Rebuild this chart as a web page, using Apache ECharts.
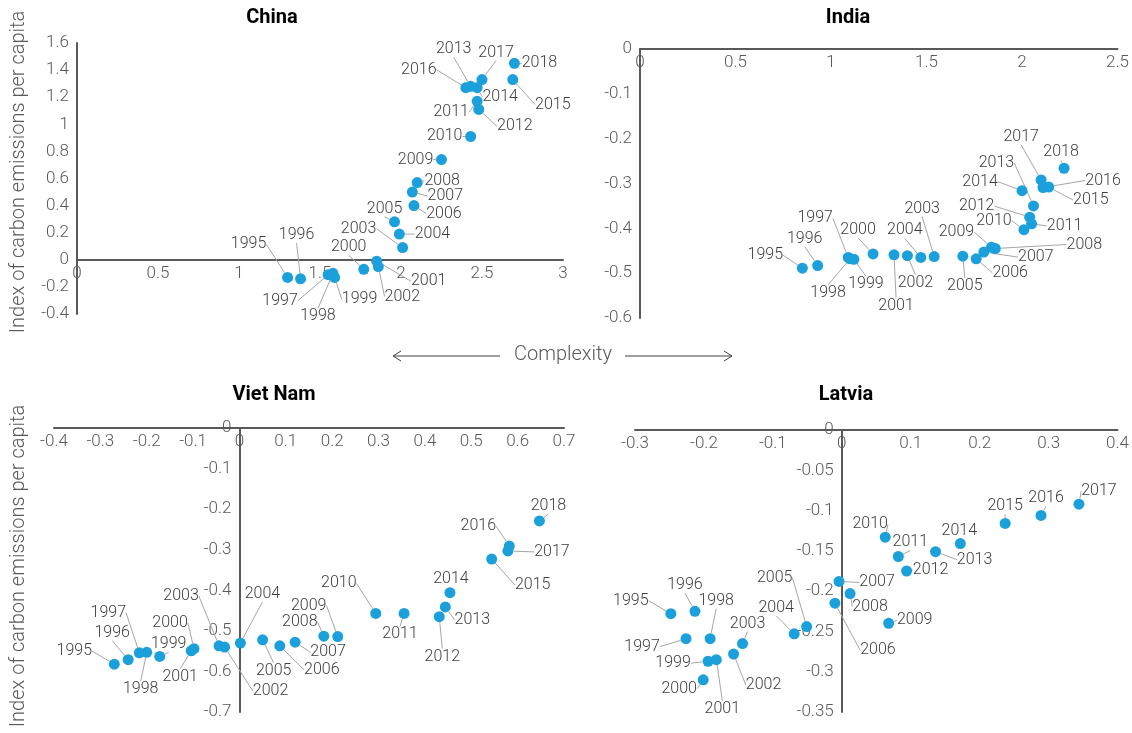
<!DOCTYPE html>
<html>
<head>
<meta charset="utf-8">
<script src="https://cdn.jsdelivr.net/npm/echarts@6/dist/echarts.min.js"></script>
<style>
html,body{margin:0;padding:0;background:#fff;}
#chart{width:1132px;height:733px;}
</style>
</head>
<body>
<div id="chart"></div>
<script>
// ---- data ----
const years = [1995,1996,1997,1998,1999,2000,2001,2002,2003,2004,2005,2006,2007,2008,2009,2010,2011,2012,2013,2014,2015,2016,2017,2018];

const chinaX = [1.30,1.38,1.55,1.58,1.59,1.77,1.85,1.86,2.01,1.99,1.96,2.08,2.07,2.10,2.25,2.43,2.47,2.48,2.43,2.47,2.69,2.40,2.50,2.70];
const chinaY = [-0.13,-0.14,-0.11,-0.10,-0.13,-0.07,-0.01,-0.05,0.09,0.19,0.28,0.40,0.50,0.57,0.74,0.91,1.17,1.11,1.28,1.27,1.33,1.27,1.33,1.45];

const indiaX = [0.85,0.93,1.09,1.10,1.12,1.22,1.33,1.40,1.54,1.47,1.69,1.76,1.80,1.86,1.84,2.01,2.05,2.04,2.06,2.00,2.14,2.11,2.10,2.22];
const indiaY = [-0.489,-0.483,-0.465,-0.468,-0.469,-0.457,-0.459,-0.461,-0.463,-0.465,-0.462,-0.468,-0.453,-0.445,-0.442,-0.403,-0.390,-0.375,-0.350,-0.316,-0.308,-0.309,-0.292,-0.266];

const vietX = [-0.270,-0.240,-0.216,-0.200,-0.172,-0.098,-0.104,-0.032,-0.044,0.002,0.050,0.087,0.120,0.182,0.212,0.294,0.355,0.431,0.444,0.454,0.544,0.582,0.579,0.647];
const vietY = [-0.582,-0.571,-0.554,-0.553,-0.563,-0.544,-0.549,-0.540,-0.537,-0.530,-0.522,-0.537,-0.528,-0.513,-0.514,-0.457,-0.457,-0.465,-0.441,-0.406,-0.323,-0.291,-0.303,-0.229];

const latviaX = [-0.248,-0.213,-0.226,-0.191,-0.194,-0.201,-0.182,-0.157,-0.144,-0.069,-0.051,-0.010,-0.004,0.012,0.068,0.063,0.082,0.094,0.136,0.172,0.237,0.289,0.344];
const latviaY = [-0.228,-0.225,-0.259,-0.259,-0.287,-0.310,-0.285,-0.278,-0.265,-0.253,-0.244,-0.215,-0.188,-0.203,-0.240,-0.133,-0.157,-0.175,-0.151,-0.141,-0.116,-0.106,-0.092];

const panelTitles = ['China','India','Viet Nam','Latvia'];
const yAxisTitle = 'Index of carbon emissions per capita';
const xAxisTitle = 'Complexity';

// ---- label offsets (pixels, label centre relative to dot) ----
const chinaLabelOff = [[-39,-33],[-4,-44],[-48,26],[-15,43],[25,22],[-15,-22],[52,20],[24,30],[-44,-19],[33,0],[-10,-13],[30,8],[33,4],[25,-2],[-26,0],[-26,0],[-26,11],[36,17],[-17,-37],[23,9],[40,25],[-47,-18],[14,-27],[25,0]];
const indiaLabelOff = [[-37,-13],[-13,-27],[-33,-39],[-22,34],[12,25],[-15,-24],[2,51],[8,27],[-12,-48],[-16,-27],[2,30],[34,14],[52,5],[89,-4],[-35,-15],[-30,-9],[33,2],[-53,-11],[-37,-43],[-42,-9],[42,13],[60,-7],[-20,-43],[-3,-16]];
const vietLabelOff = [[-40,-13],[-16,-27],[-31,-40],[-6,37],[9,-12],[-24,-26],[-11,26],[46,44],[-38,-50],[22,-49],[11,31],[42,24],[33,10],[-24,-14],[-29,-31],[-37,-30],[-4,21],[3,40],[27,13],[1,-14],[41,26],[-31,-20],[44,1],[9,-15]];
const latviaLabelOff = [[-40,-13],[-10,-26],[-44,8],[6,-38],[-35,2],[-24,9],[6,49],[30,31],[5,-20],[-18,-26],[-32,-49],[43,47],[38,1],[20,13],[26,-3],[-15,-13],[12,-14],[24,-1],[39,8],[-1,-13],[0,-17],[5,-17],[20,-13]];

// ---- styling ----
const FONT = 'Roboto, "Noto Sans", sans-serif';
const AXIS_COLOR = '#595959';
const DOT_COLOR = '#1ca0dc';
const CH = 733;
const grids = [
  {left:77, right:569, top:43, bottom:419},
  {left:640, right:12, top:49, bottom:415},
  {left:54, right:568, top:428, bottom:21},
  {left:635, right:10, top:430, bottom:21}
];

function pts(xs, ys){ return xs.map((x,i)=>[x, ys[i], years[i]]); }

function xAx(gi, min, max, interval, pos){
  return {
    type:'value', gridIndex:gi, min:min, max:max, interval:interval, position:pos,
    axisLine:{show:true, onZero:false, lineStyle:{color:AXIS_COLOR, width:2}},
    axisTick:{show:false}, splitLine:{show:false},
    axisLabel:{color:AXIS_COLOR, fontSize:17, fontWeight:300, fontFamily:FONT, margin:5, inside:pos==='top'}
  };
}
function yAx(gi, min, max, interval){
  return {
    type:'value', gridIndex:gi, min:min, max:max, interval:interval, position:'left',
    axisLine:{show:true, onZero:false, lineStyle:{color:AXIS_COLOR, width:2}},
    axisTick:{show:false}, splitLine:{show:false},
    axisLabel:{color:AXIS_COLOR, fontSize:17, fontWeight:300, fontFamily:FONT, margin:8}
  };
}
function ser(gi, data, offs){
  return {
    type:'scatter', xAxisIndex:gi, yAxisIndex:gi, data:data,
    symbol:'circle', symbolSize:11,
    itemStyle:{color:DOT_COLOR, opacity:1},
    label:{show:true, position:'inside', formatter:function(p){return p.value[2];},
           color:'#404040', fontSize:16, fontWeight:300, fontFamily:FONT},
    labelLine:{show:true, lineStyle:{color:'#a6a6a6', width:1}},
    labelLayout:function(p){
      const o = offs[p.dataIndex] || [0,0];
      return {x: p.rect.x + p.rect.width/2 + o[0], y: p.rect.y + p.rect.height/2 + o[1], align:'center', verticalAlign:'middle'};
    },
    emphasis:{disabled:true}, animation:false
  };
}

const chart = echarts.init(document.getElementById('chart'), null, {renderer:'canvas'});
const titleStyle = {fontSize:20, fontWeight:'bold', fontFamily:FONT, fill:'#000', textAlign:'center', textVerticalAlign:'middle'};
const grayText = {fontSize:20, fontWeight:300, fontFamily:FONT, fill:AXIS_COLOR, textAlign:'center', textVerticalAlign:'middle'};

chart.setOption({
  backgroundColor:'#fff',
  animation:false,
  grid:grids,
  xAxis:[ xAx(0,0,3,0.5,'bottom'), xAx(1,0,2.5,0.5,'top'), xAx(2,-0.4,0.7,0.1,'top'), xAx(3,-0.3,0.4,0.1,'top') ],
  yAxis:[ yAx(0,-0.4,1.6,0.2), yAx(1,-0.6,0,0.1), yAx(2,-0.7,0,0.1), yAx(3,-0.35,0,0.05) ],
  series:[
    ser(0, pts(chinaX, chinaY), chinaLabelOff),
    ser(1, pts(indiaX, indiaY), indiaLabelOff),
    ser(2, pts(vietX, vietY), vietLabelOff),
    ser(3, pts(latviaX, latviaY), latviaLabelOff)
  ],
  graphic:[
    {type:'text', x:272, y:18, style:Object.assign({text:panelTitles[0]}, titleStyle)},
    {type:'text', x:848, y:18, style:Object.assign({text:panelTitles[1]}, titleStyle)},
    {type:'text', x:274, y:395, style:Object.assign({text:panelTitles[2]}, titleStyle)},
    {type:'text', x:846, y:395, style:Object.assign({text:panelTitles[3]}, titleStyle)},
    {type:'text', x:19, y:172, rotation:Math.PI/2, style:Object.assign({text:yAxisTitle}, grayText)},
    {type:'text', x:19, y:566, rotation:Math.PI/2, style:Object.assign({text:yAxisTitle}, grayText)},
    {type:'text', x:563, y:355, style:Object.assign({text:xAxisTitle}, grayText)},
    {type:'polyline', shape:{points:[[393,356],[500,356]]}, style:{stroke:'#404040', lineWidth:1, fill:null}},
    {type:'polyline', shape:{points:[[401,351],[393,356],[401,361]]}, style:{stroke:'#404040', lineWidth:1, fill:null}},
    {type:'polyline', shape:{points:[[625,356],[732,356]]}, style:{stroke:'#404040', lineWidth:1, fill:null}},
    {type:'polyline', shape:{points:[[724,351],[732,356],[724,361]]}, style:{stroke:'#404040', lineWidth:1, fill:null}}
  ]
});

// Move axes that cross at zero (line + labels) onto the zero position of the other axis.
const chinaZeroY = chart.convertToPixel({yAxisIndex:0}, 0);
const vietZeroX = chart.convertToPixel({xAxisIndex:2}, 0);
const latviaZeroX = chart.convertToPixel({xAxisIndex:3}, 0);
chart.setOption({
  xAxis:[ {offset: -((CH - grids[0].bottom) - chinaZeroY)}, {}, {}, {} ],
  yAxis:[ {}, {}, {offset: -(vietZeroX - grids[2].left)}, {offset: -(latviaZeroX - grids[3].left)} ]
});
</script>
</body>
</html>
